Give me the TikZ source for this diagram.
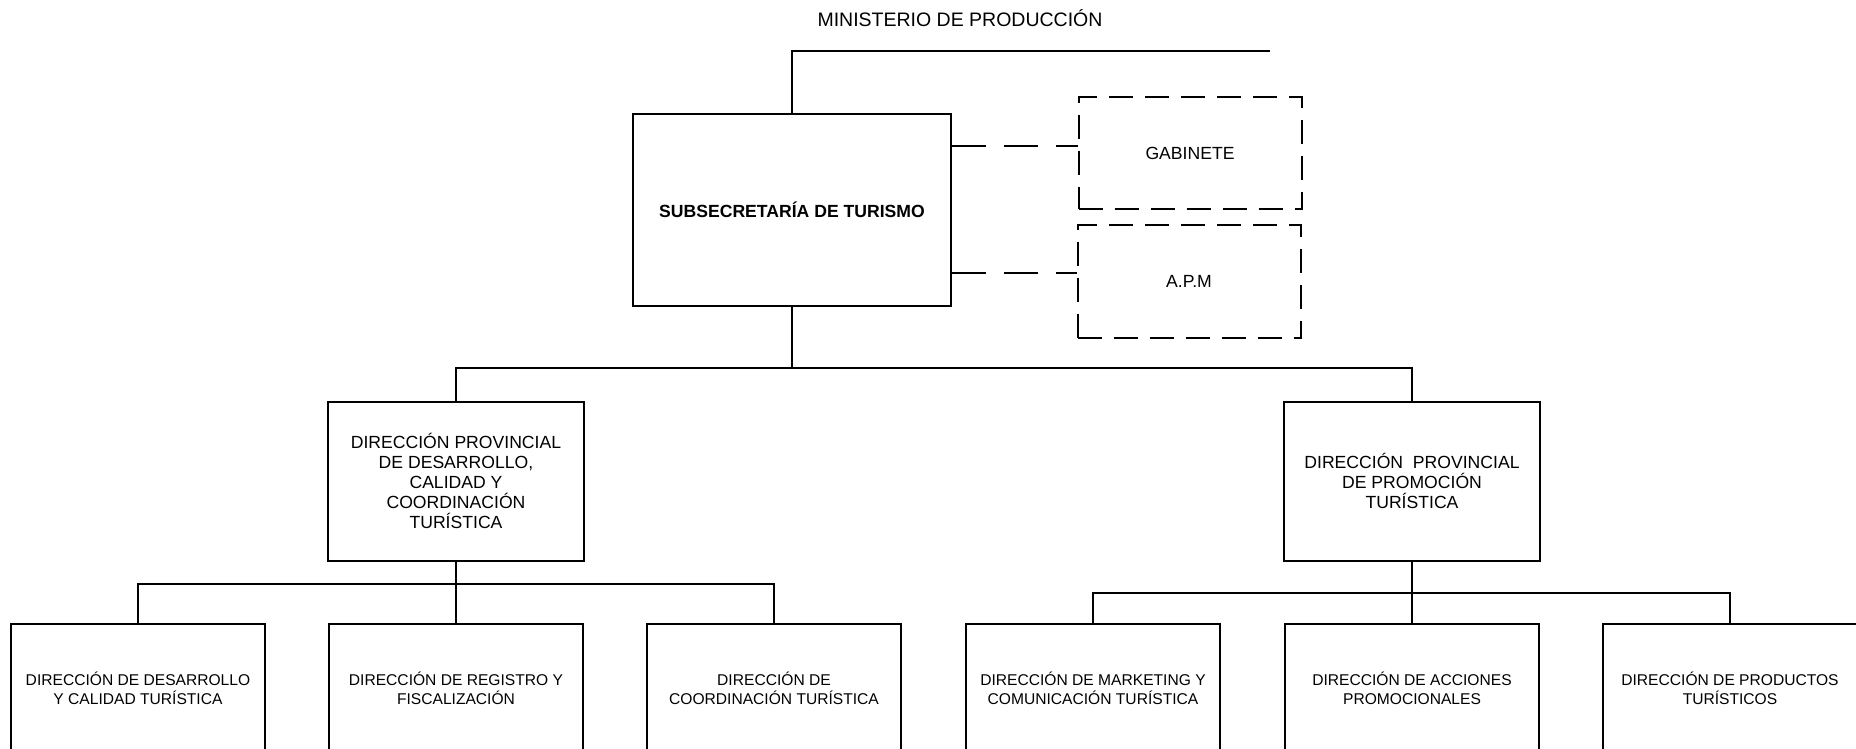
\documentclass[tikz,border=0pt]{standalone}
\usepackage{fontspec}
\setmainfont{Liberation Sans}
\begin{document}
\begin{tikzpicture}[x=1pt,y=-1pt,
  box/.style={draw=black,line width=2pt,inner sep=0pt,align=center,fill=white},
  dbox/.style={draw=black,line width=2pt,inner sep=0pt,align=center,dash pattern=on 24pt off 12pt},
  big/.style={font=\fontsize{17.6}{20}\selectfont},
  small/.style={font=\fontsize{15.6}{19}\selectfont},
  conn/.style={line width=2pt},
  dconn/.style={line width=2pt,dash pattern=on 34pt off 18pt}]
\useasboundingbox (0,0) rectangle (1856,749);
\clip (0,0) rectangle (1856,749);
\fill[white] (0,0) rectangle (1856,749);
% nodes
\node[font=\fontsize{19.5}{22}\selectfont] (title) at (960,18) {MINISTERIO DE PRODUCCIÓN};
\node[box,minimum width=318pt,minimum height=191pt,font=\fontsize{17.6}{20}\selectfont\bfseries] (subsec) at (792,210) {SUBSECRETARÍA DE TURISMO};
\node[dbox,big,minimum width=223pt,minimum height=112pt] (gab) at (1190,153) {GABINETE};
\node[dbox,big,minimum width=223pt,minimum height=113pt] (apm) at (1189,281) {A.P.M};
\node[box,big,minimum width=256pt,minimum height=159pt] (dp1) at (456,481) {DIRECCIÓN PROVINCIAL\\DE DESARROLLO,\\CALIDAD Y\\COORDINACIÓN\\TURÍSTICA};
\node[box,big,minimum width=256pt,minimum height=159pt] (dp2) at (1412,481) {DIRECCIÓN\ \ PROVINCIAL\\DE PROMOCIÓN\\TURÍSTICA};
\node[box,small,minimum width=254pt,minimum height=128pt] (b1) at (138,688) {DIRECCIÓN DE DESARROLLO\\Y CALIDAD TURÍSTICA};
\node[box,small,minimum width=254pt,minimum height=128pt] (b2) at (456,688) {DIRECCIÓN DE REGISTRO Y\\FISCALIZACIÓN};
\node[box,small,minimum width=254pt,minimum height=128pt] (b3) at (774,688) {DIRECCIÓN DE\\COORDINACIÓN TURÍSTICA};
\node[box,small,minimum width=254pt,minimum height=128pt] (b4) at (1093,688) {DIRECCIÓN DE MARKETING Y\\COMUNICACIÓN TURÍSTICA};
\node[box,small,minimum width=254pt,minimum height=128pt] (b5) at (1412,688) {DIRECCIÓN DE ACCIONES\\PROMOCIONALES};
\node[box,small,minimum width=254pt,minimum height=128pt] (b6) at (1730,688) {DIRECCIÓN DE PRODUCTOS\\TURÍSTICOS};
% coordinates
\coordinate (topEnd) at (1270,51);
\coordinate (busM) at (792,368);
\coordinate (busL) at (456,584);
\coordinate (busR) at (1412,593);
\coordinate (gabIn) at ([yshift=7pt]gab.west);
\coordinate (apmIn) at ([yshift=8pt]apm.west);
% connectors
\draw[conn] (subsec.north) |- (topEnd);
\draw[conn] (subsec.south) -- (busM);
\draw[conn] (dp1.north) |- (busM);
\draw[conn] (busM) -| (dp2.north);
\draw[conn] (dp1.south) -- (busL);
\draw[conn] (b1.north) |- (busL);
\draw[conn] (busL) -| (b3.north);
\draw[conn] (busL) -- (b2.north);
\draw[conn] (dp2.south) -- (busR);
\draw[conn] (b4.north) |- (busR);
\draw[conn] (busR) -| (b6.north);
\draw[conn] (busR) -- (b5.north);
\draw[dconn] (subsec.east |- gabIn) -- (gabIn);
\draw[dconn] (subsec.east |- apmIn) -- (apmIn);
\end{tikzpicture}
\end{document}
